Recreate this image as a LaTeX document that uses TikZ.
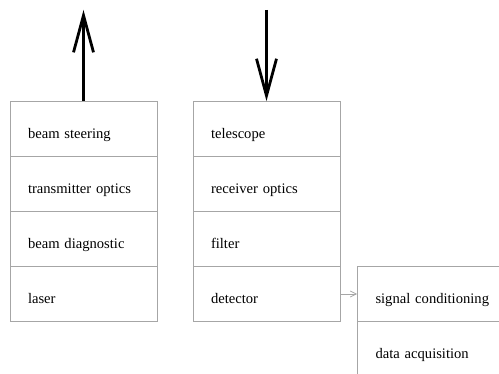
\documentclass[tikz,border=0pt]{standalone}
\usepackage{fontspec}
\setmainfont{Liberation Serif}
\usetikzlibrary{arrows.meta}

\tikzset{
	cell/.style={draw=gray!70, line width=0.8pt, rectangle, text width=111pt, inner xsep=18pt, inner ysep=0pt,
		minimum height=55pt, text height=19pt, text depth=0pt, align=left, font=\fontsize{14.6}{17}\selectfont},
	beam/.style={line width=2.8pt, -{Straight Barb[length=37pt, width=20pt, line width=2.8pt]}},
	wire/.style={draw=gray!70, line width=0.8pt, -{Straight Barb[length=6pt, width=6pt]}}
}

\begin{document}
\begin{tikzpicture}[x=1pt, y=-1pt]
					\useasboundingbox (0,0) rectangle (499,374);
					\clip (0,0) rectangle (499,374);
					% transmitter
					\foreach \label [count=\row from 0] in {beam steering, transmitter optics, beam diagnostic, laser} {
						\node[cell] (tx\row) at (83.5,129+55*\row) {\label};
					}
					% receiver
					\foreach \label [count=\row from 0] in {telescope, receiver optics, filter, detector} {
						\node[cell] (rx\row) at (266.5,129+55*\row) {\label};
					}
					\node[cell, text width=130pt] (sc) at (440.5,294) {signal conditioning};
					\node[cell, text width=130pt] (da) at (440.5,349) {data acquisition};
					\coordinate (out) at (83.5,10);
					\coordinate (in) at (266.5,10);
					\draw[beam] (tx0.north) -- (out);
					\draw[beam] (in) -- (rx0.north);
					\draw[wire] (rx3.east) -- (sc.west);
				\end{tikzpicture}
\end{document}
